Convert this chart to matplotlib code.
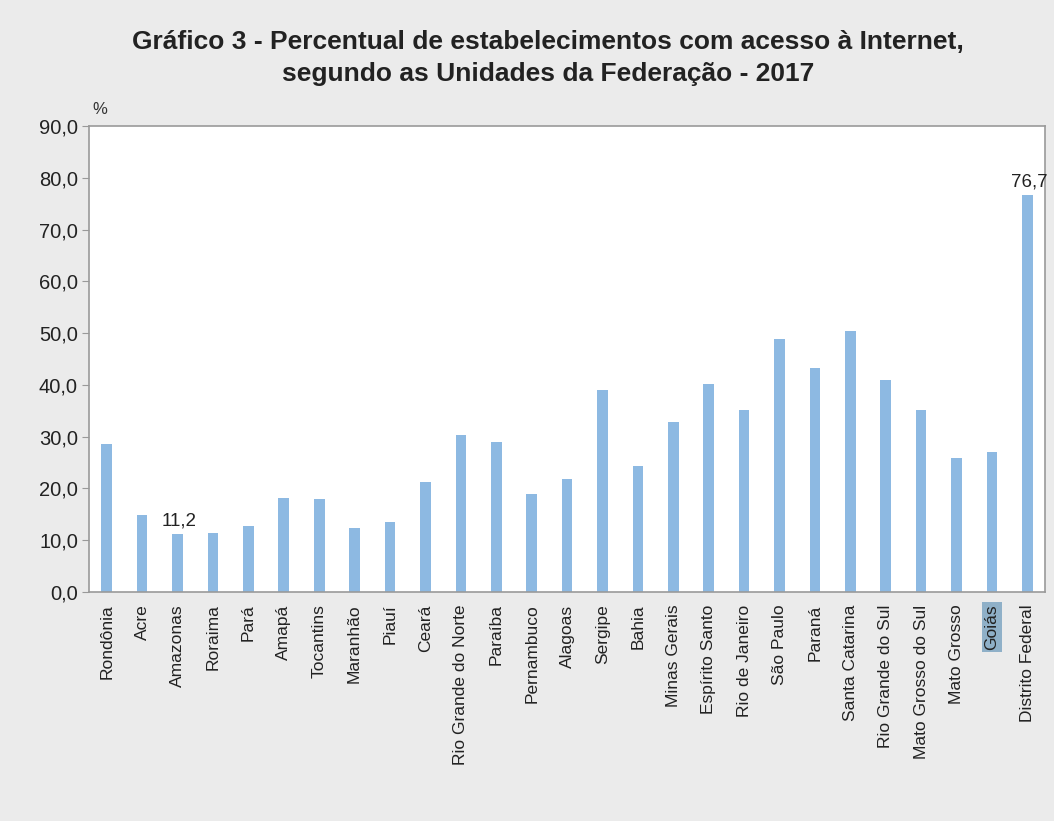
import numpy as np
import matplotlib.pyplot as plt
from matplotlib.ticker import FuncFormatter

# percentual de estabelecimentos com acesso a Internet por UF, 2017
ufs = ['Rondônia', 'Acre', 'Amazonas', 'Roraima', 'Pará', 'Amapá', 'Tocantins',
       'Maranhão', 'Piauí', 'Ceará', 'Rio Grande do Norte', 'Paraíba',
       'Pernambuco', 'Alagoas', 'Sergipe', 'Bahia', 'Minas Gerais',
       'Espírito Santo', 'Rio de Janeiro', 'São Paulo', 'Paraná',
       'Santa Catarina', 'Rio Grande do Sul', 'Mato Grosso do Sul',
       'Mato Grosso', 'Goiás', 'Distrito Federal']
pct = [28.5, 14.8, 11.2, 11.3, 12.8, 18.1, 17.9,
       12.3, 13.6, 21.2, 30.3, 29.0,
       18.9, 21.9, 39.1, 24.3, 32.9,
       40.1, 35.2, 48.8, 43.3,
       50.5, 40.9, 35.2,
       25.9, 27.0, 76.7]
labelled = ['Amazonas', 'Distrito Federal']

plt.rcParams['font.family'] = ['Liberation Sans', 'DejaVu Sans']

BG = '#ebebeb'
BAR = '#8db9e2'

fig = plt.figure(figsize=(10.54, 8.21), dpi=100, facecolor=BG)
ax = fig.add_axes([0.0845, 0.279, 0.907, 0.5675])
ax.set_facecolor('white')

x = np.arange(len(ufs))
ax.bar(x, pct, width=0.3, color=BAR, zorder=2)

for i, (uf, v) in enumerate(zip(ufs, pct)):
    if uf in labelled:
        ax.text(i + 0.05, v + 0.8, f'{v:.1f}'.replace('.', ','), ha='center',
                va='bottom', fontsize=13.5, color='#222222')

ax.set_xlim(-0.5, len(ufs) - 0.5)
ax.set_ylim(0, 90)
ax.set_yticks(np.arange(0, 91, 10))
ax.yaxis.set_major_formatter(FuncFormatter(lambda v, p: f'{v:.1f}'.replace('.', ',')))
ax.tick_params(axis='y', labelsize=14.5, length=5, color='#999999',
               labelcolor='#222222', pad=3)
ax.set_xticks(x)
ax.set_xticklabels(ufs, rotation=90, fontsize=12.5, color='#222222')
ax.tick_params(axis='x', length=0, pad=9)

for sp in ax.spines.values():
    sp.set_color('#9a9a9a')
    sp.set_linewidth(1.2)

# destaque no rotulo de Goias
for lbl in ax.get_xticklabels():
    if lbl.get_text() == 'Goiás':
        lbl.set_bbox(dict(facecolor='#8fb0c8', edgecolor='none', pad=1.5))

ax.text(0.003, 1.02, '%', transform=ax.transAxes, fontsize=12, color='#333333',
        ha='left', va='bottom')

fig.text(0.52, 0.963, 'Gráfico 3 - Percentual de estabelecimentos com acesso à Internet,\n'
         'segundo as Unidades da Federação - 2017', ha='center', va='top',
         fontsize=19, fontweight='bold', linespacing=1.4, color='#222222')

fig.savefig('out.png', dpi=100, facecolor=BG)
